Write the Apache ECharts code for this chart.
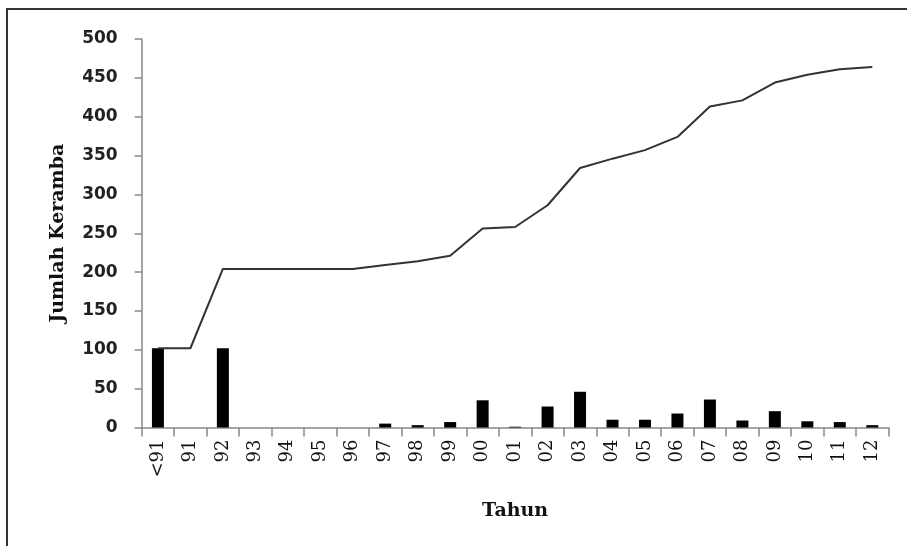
<!DOCTYPE html>
<html>
<head>
<meta charset="utf-8">
<script src="https://cdn.jsdelivr.net/npm/echarts@6/dist/echarts.min.js"></script>
<style>
html,body{margin:0;padding:0;background:#fff;}
#chart{width:907px;height:546px;}
</style>
</head>
<body>
<div id="chart"></div>
<script>
var categories = ['<91','91','92','93','94','95','96','97','98','99','00','01','02','03','04','05','06','07','08','09','10','11','12'];
var barValues = [102,0,102,0,0,0,0,5,3,7,35,1,27,46,10,10,18,36,9,21,8,7,3];
var lineValues = [102,102,204,204,204,204,204,209,214,221,256,258,286,334,346,357,374,413,421,444,454,461,464];
var yTicks = [0,50,100,150,200,250,300,350,400,450,500];

var chart = echarts.init(document.getElementById('chart'), null, {renderer:'canvas'});
chart.setOption({
  animation:false,
  backgroundColor:'#ffffff',
  graphic:[{
    type:'rect',
    shape:{x:7,y:9,width:1000,height:1000},
    style:{fill:'none',stroke:'#333333',lineWidth:2}
  }],
  grid:{left:141.7,right:18.5,top:39,bottom:118.5,containLabel:false},
  xAxis:{
    type:'category',
    data:categories,
    boundaryGap:true,
    name:'Tahun',
    nameLocation:'middle',
    nameGap:74,
    nameTextStyle:{fontFamily:'DejaVu Serif',fontWeight:'bold',fontSize:19,color:'#111'},
    axisLine:{lineStyle:{color:'#888888',width:1.5}},
    axisTick:{show:true,alignWithLabel:false,length:9,lineStyle:{color:'#888888',width:1.5}},
    axisLabel:{rotate:90,margin:12,fontFamily:'DejaVu Serif',fontSize:18,color:'#111',interval:0}
  },
  yAxis:{
    type:'value',
    min:yTicks[0],
    max:yTicks[yTicks.length-1],
    interval:50,
    name:'Jumlah Keramba',
    nameLocation:'middle',
    nameGap:74,
    nameRotate:90,
    nameTextStyle:{fontFamily:'DejaVu Serif',fontWeight:'bold',fontSize:19,color:'#111'},
    axisLine:{show:true,lineStyle:{color:'#888888',width:1.5}},
    axisTick:{show:true,length:7,lineStyle:{color:'#888888',width:1.5}},
    splitLine:{show:false},
    axisLabel:{margin:24,fontFamily:'DejaVu Sans',fontWeight:'bold',fontSize:17,color:'#222'}
  },
  series:[
    {
      type:'bar',
      data:barValues,
      barWidth:12,
      itemStyle:{color:'#000000',borderWidth:0}
    },
    {
      type:'line',
      data:lineValues,
      showSymbol:false,
      symbol:'none',
      lineStyle:{color:'#333333',width:2}
    }
  ]
});
</script>
</body>
</html>
